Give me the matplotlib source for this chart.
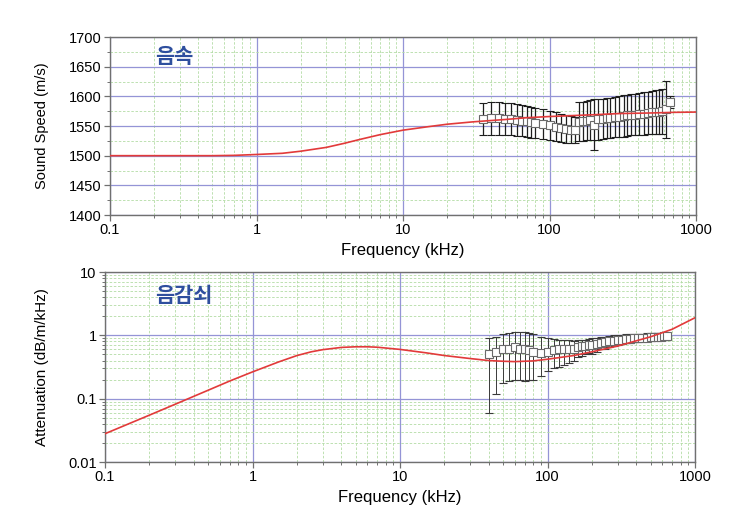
import numpy as np
import matplotlib
matplotlib.use("Agg")
import matplotlib.pyplot as plt
from matplotlib.ticker import FixedLocator, FixedFormatter, LogLocator, MultipleLocator, NullFormatter

plt.rcParams["font.family"] = ["Liberation Sans", "DejaVu Sans"]

# ── model curves (red) ─────────────────────────────────────────────────────
model_freq_speed = [0.1, 0.2, 0.5, 0.7, 1, 1.5, 2, 3, 4, 5, 7, 10, 15, 20, 30, 50,
                    70, 100, 200, 300, 500, 700, 1000]
model_speed = [1500, 1500, 1500, 1500.5, 1502, 1504, 1507.5, 1514, 1521, 1527, 1535.5, 1543,
               1549, 1553, 1557, 1561, 1564, 1566, 1569, 1571, 1572, 1573, 1573.5]

model_freq_att = [0.1, 0.2, 0.3, 0.5, 0.7, 1, 1.5, 2, 2.5, 3, 4, 5, 6, 7, 10, 15, 20, 30,
                  40, 50, 60, 80, 100, 150, 200, 300, 500, 700, 1000]
model_att = [0.028, 0.055, 0.082, 0.136, 0.19, 0.265, 0.38, 0.48, 0.55, 0.595, 0.645,
             0.66, 0.66, 0.65, 0.6, 0.53, 0.48, 0.43, 0.40, 0.39, 0.385, 0.395, 0.42,
             0.48, 0.55, 0.68, 0.95, 1.25, 1.9]

# ── measured sound speed ───────────────────────────────────────────────────
speed_freq = [35, 40, 45, 50, 55, 60, 65, 70, 75, 80, 90, 100, 110, 120, 130, 140, 150,
              160, 170, 180, 190, 200, 215, 230, 245, 260, 280, 300, 320, 340, 360, 385,
              410, 440, 470, 500, 530, 560, 590, 620, 660]
speed_mean = [1562, 1563, 1563, 1561, 1561, 1560, 1559, 1558, 1556, 1555, 1553, 1551,
              1549, 1547, 1545, 1544, 1543, 1557, 1558, 1559, 1560, 1552, 1561, 1562,
              1563, 1564, 1565, 1566, 1567, 1568, 1569, 1569, 1570, 1571, 1572, 1573,
              1573, 1574, 1575, 1578, 1590]
speed_err = [27, 28, 28, 27, 27, 27, 26, 26, 26, 25, 25, 24, 24, 24, 23, 23, 22,
             33, 33, 33, 33, 43, 34, 34, 34, 34, 34, 35, 35, 35, 35, 35, 35, 36, 36, 36,
             37, 37, 38, 48, 10]

# ── measured attenuation ───────────────────────────────────────────────────
att_freq = [40, 45, 50, 55, 60, 65, 70, 75, 80, 90, 100, 110, 120, 130, 140, 150, 160,
            170, 180, 190, 200, 215, 230, 245, 260, 280, 300, 320, 340, 360, 385, 410,
            440, 470, 500, 530, 560, 590, 620, 650]
att_mean = [0.50, 0.55, 0.62, 0.60, 0.65, 0.62, 0.60, 0.58, 0.55, 0.52, 0.55, 0.58, 0.60,
            0.60, 0.62, 0.62, 0.65, 0.68, 0.68, 0.70, 0.70, 0.72, 0.75, 0.78, 0.80, 0.82,
            0.85, 0.86, 0.88, 0.88, 0.90, 0.90, 0.92, 0.92, 0.93, 0.94, 0.95, 0.95, 0.96,
            0.96]
att_lo = [0.06, 0.12, 0.18, 0.19, 0.20, 0.20, 0.19, 0.20, 0.20, 0.23, 0.27, 0.30, 0.32,
          0.34, 0.36, 0.40, 0.45, 0.48, 0.50, 0.52, 0.50, 0.55, 0.60, 0.62, 0.65, 0.68,
          0.70, 0.72, 0.75, 0.76, 0.78, 0.78, 0.80, 0.82, 0.82, 0.83, 0.84, 0.84, 0.85,
          0.85]
att_hi = [0.90, 0.95, 1.05, 1.10, 1.15, 1.12, 1.12, 1.08, 1.05, 0.95, 0.90, 0.88, 0.85,
          0.85, 0.85, 0.82, 0.85, 0.85, 0.85, 0.88, 0.90, 0.92, 0.93, 0.95, 0.97, 1.00,
          1.02, 1.03, 1.05, 1.05, 1.06, 1.06, 1.07, 1.08, 1.08, 1.09, 1.10, 1.10, 1.10,
          1.10]

x_ticks = [0.1, 1, 10, 100, 1000]
x_tick_labels = ["0.1", "1", "10", "100", "1000"]
att_ticks = [0.01, 0.1, 1, 10]
att_tick_labels = ["0.01", "0.1", "1", "10"]

MAJOR_GRID = "#9494d6"
MINOR_GRID = "#b3dca5"
SPINE = "#707070"
RED = "#e23a3a"
TITLE_BLUE = "#2e4f9e"
KFONT = ["Noto Sans CJK KR", "DejaVu Sans"]

fig = plt.figure(figsize=(7.55, 5.31), dpi=100)
ax1 = fig.add_axes([0.1457, 0.5951, 0.7762, 0.3352])
ax2 = fig.add_axes([0.1391, 0.1299, 0.7815, 0.3578])


def style_axes(ax):
    ax.set_xscale("log")
    ax.set_xlim(0.1, 1000)
    ax.xaxis.set_major_locator(FixedLocator(x_ticks))
    ax.xaxis.set_major_formatter(FixedFormatter(x_tick_labels))
    ax.xaxis.set_minor_locator(LogLocator(base=10, subs=np.arange(2, 10)))
    ax.xaxis.set_minor_formatter(NullFormatter())
    ax.grid(which="major", color=MAJOR_GRID, lw=0.9, ls="-")
    ax.grid(which="minor", color=MINOR_GRID, lw=0.6, ls=(0, (3, 2)))
    ax.set_axisbelow(True)
    for s in ax.spines.values():
        s.set_color(SPINE)
        s.set_linewidth(1.0)
    ax.tick_params(which="major", length=4, width=0.9, color=SPINE, labelsize=10.5, pad=2)
    ax.tick_params(which="minor", length=2, width=0.7, color=SPINE)
    ax.set_xlabel("Frequency (kHz)", fontsize=12, labelpad=4)


# ── top: sound speed ───────────────────────────────────────────────────────
style_axes(ax1)
ax1.set_ylim(1400, 1700)
ax1.yaxis.set_major_locator(MultipleLocator(50))
ax1.yaxis.set_minor_locator(MultipleLocator(25))
ax1.set_ylabel("Sound Speed (m/s)", fontsize=10.5, labelpad=14)
ax1.errorbar(speed_freq, speed_mean, yerr=speed_err, fmt="s", ms=6,
             mfc="white", mec="#6a6a6a", mew=0.8, ecolor="#1e1e1e",
             elinewidth=0.9, capsize=3, capthick=0.9, zorder=3)
ax1.plot(model_freq_speed, model_speed, color=RED, lw=1.2, zorder=4)
ax1.text(0.077, 0.888, "음속", transform=ax1.transAxes, fontsize=15,
         fontweight="bold", color=TITLE_BLUE, family=KFONT, va="center")

# ── bottom: attenuation ────────────────────────────────────────────────────
style_axes(ax2)
ax2.set_yscale("log")
ax2.set_ylim(0.01, 10)
ax2.yaxis.set_major_locator(FixedLocator(att_ticks))
ax2.yaxis.set_major_formatter(FixedFormatter(att_tick_labels))
ax2.yaxis.set_minor_locator(LogLocator(base=10, subs=np.arange(2, 10)))
ax2.yaxis.set_minor_formatter(NullFormatter())
ax2.set_ylabel("Attenuation (dB/m/kHz)", fontsize=11, labelpad=14)
mean = np.array(att_mean)
yerr = [mean - np.array(att_lo), np.array(att_hi) - mean]
ax2.errorbar(att_freq, att_mean, yerr=yerr, fmt="s", ms=6,
             mfc="white", mec="#6a6a6a", mew=0.8, ecolor="#3a3a3a",
             elinewidth=0.7, capsize=3, capthick=0.7, zorder=3)
ax2.plot(model_freq_att, model_att, color=RED, lw=1.2, zorder=4)
ax2.text(0.085, 0.879, "음감쇠", transform=ax2.transAxes, fontsize=15,
         fontweight="bold", color=TITLE_BLUE, family=KFONT, va="center")

fig.savefig("out.png", dpi=100, facecolor="white")
